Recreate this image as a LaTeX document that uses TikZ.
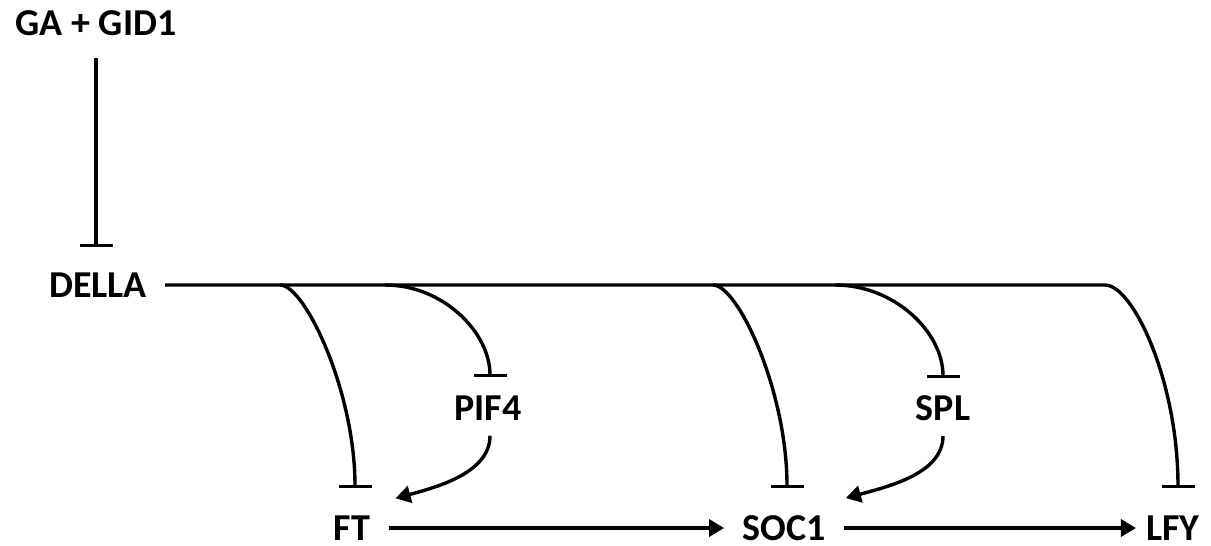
\documentclass[tikz,border=0pt]{standalone}
\usepackage{fontspec}
\setmainfont{Carlito}
\usetikzlibrary{arrows.meta, positioning}

\begin{document}
\begin{tikzpicture}[x=0.5pt, y=0.5pt,
        gene/.style={inner xsep=9pt, inner ysep=2pt, font=\fontsize{19}{23}\selectfont\bfseries},
        act/.style={line width=1.7pt, -{Triangle[length=7.5pt, width=8.5pt]}},
        inh/.style={line width=1.7pt, -{Bar[width=16.5pt, line width=1.7pt]}}]
        \useasboundingbox (0,0) rectangle (1211,-546);

        \node[gene] (ga) at (96,-23) {GA + GID1};
        \node[gene] (della) at (98,-285) {DELLA};
        \node[gene] (pif4) at (488,-408) {PIF4};
        \node[gene] (spl) at (943,-408) {SPL};
        \node[gene] (ft) at (352,-528) {FT};
        \node[gene] (soc1) at (784,-528) {SOC1};
        \node[gene] (lfy) at (1173,-528) {LFY};

        % GA + GID1
        \draw[inh, shorten <=9pt, shorten >=10.5pt] (ga.south) -- (ga.south |- della.north);

        % DELLA
        \coordinate (d1) at (280,-285);
        \coordinate (d2) at (385,-285);
        \coordinate (d3) at (713,-285);
        \coordinate (d4) at (835,-285);
        \coordinate (dl) at (1105,-285);
        \draw[inh, shorten >=11.5pt] (della.east) -- (dl) .. controls +(28,0) and +(0,130) .. ([xshift=2.5pt]lfy.north);
        \draw[inh, shorten >=11.5pt] (d1) .. controls +(25,0) and +(0,120) .. ([xshift=1.5pt]ft.north);
        \draw[inh, shorten >=7pt] (d2) to [out=0, in=90] ([xshift=1pt]pif4.north);
        \draw[inh, shorten >=11.5pt] (d3) .. controls +(25,0) and +(0,120) .. ([xshift=1.5pt]soc1.north);
        \draw[inh, shorten >=6.5pt] (d4) to [out=0, in=90] (spl.north);

        % PIF4, SPL
        \draw[act, shorten <=5.5pt] ([xshift=1pt]pif4.south) to [out=-90, in=15] ([shift={(3.5pt,6.5pt)}]ft.north east);
        \draw[act, shorten <=5.5pt] (spl.south) to [out=-90, in=15] ([shift={(1pt,6.5pt)}]soc1.north east);

        % FT, SOC1
        \draw[act] (ft) -- (soc1);
        \draw[act, shorten >=-4pt] (soc1) -- (lfy);
    \end{tikzpicture}
\end{document}
